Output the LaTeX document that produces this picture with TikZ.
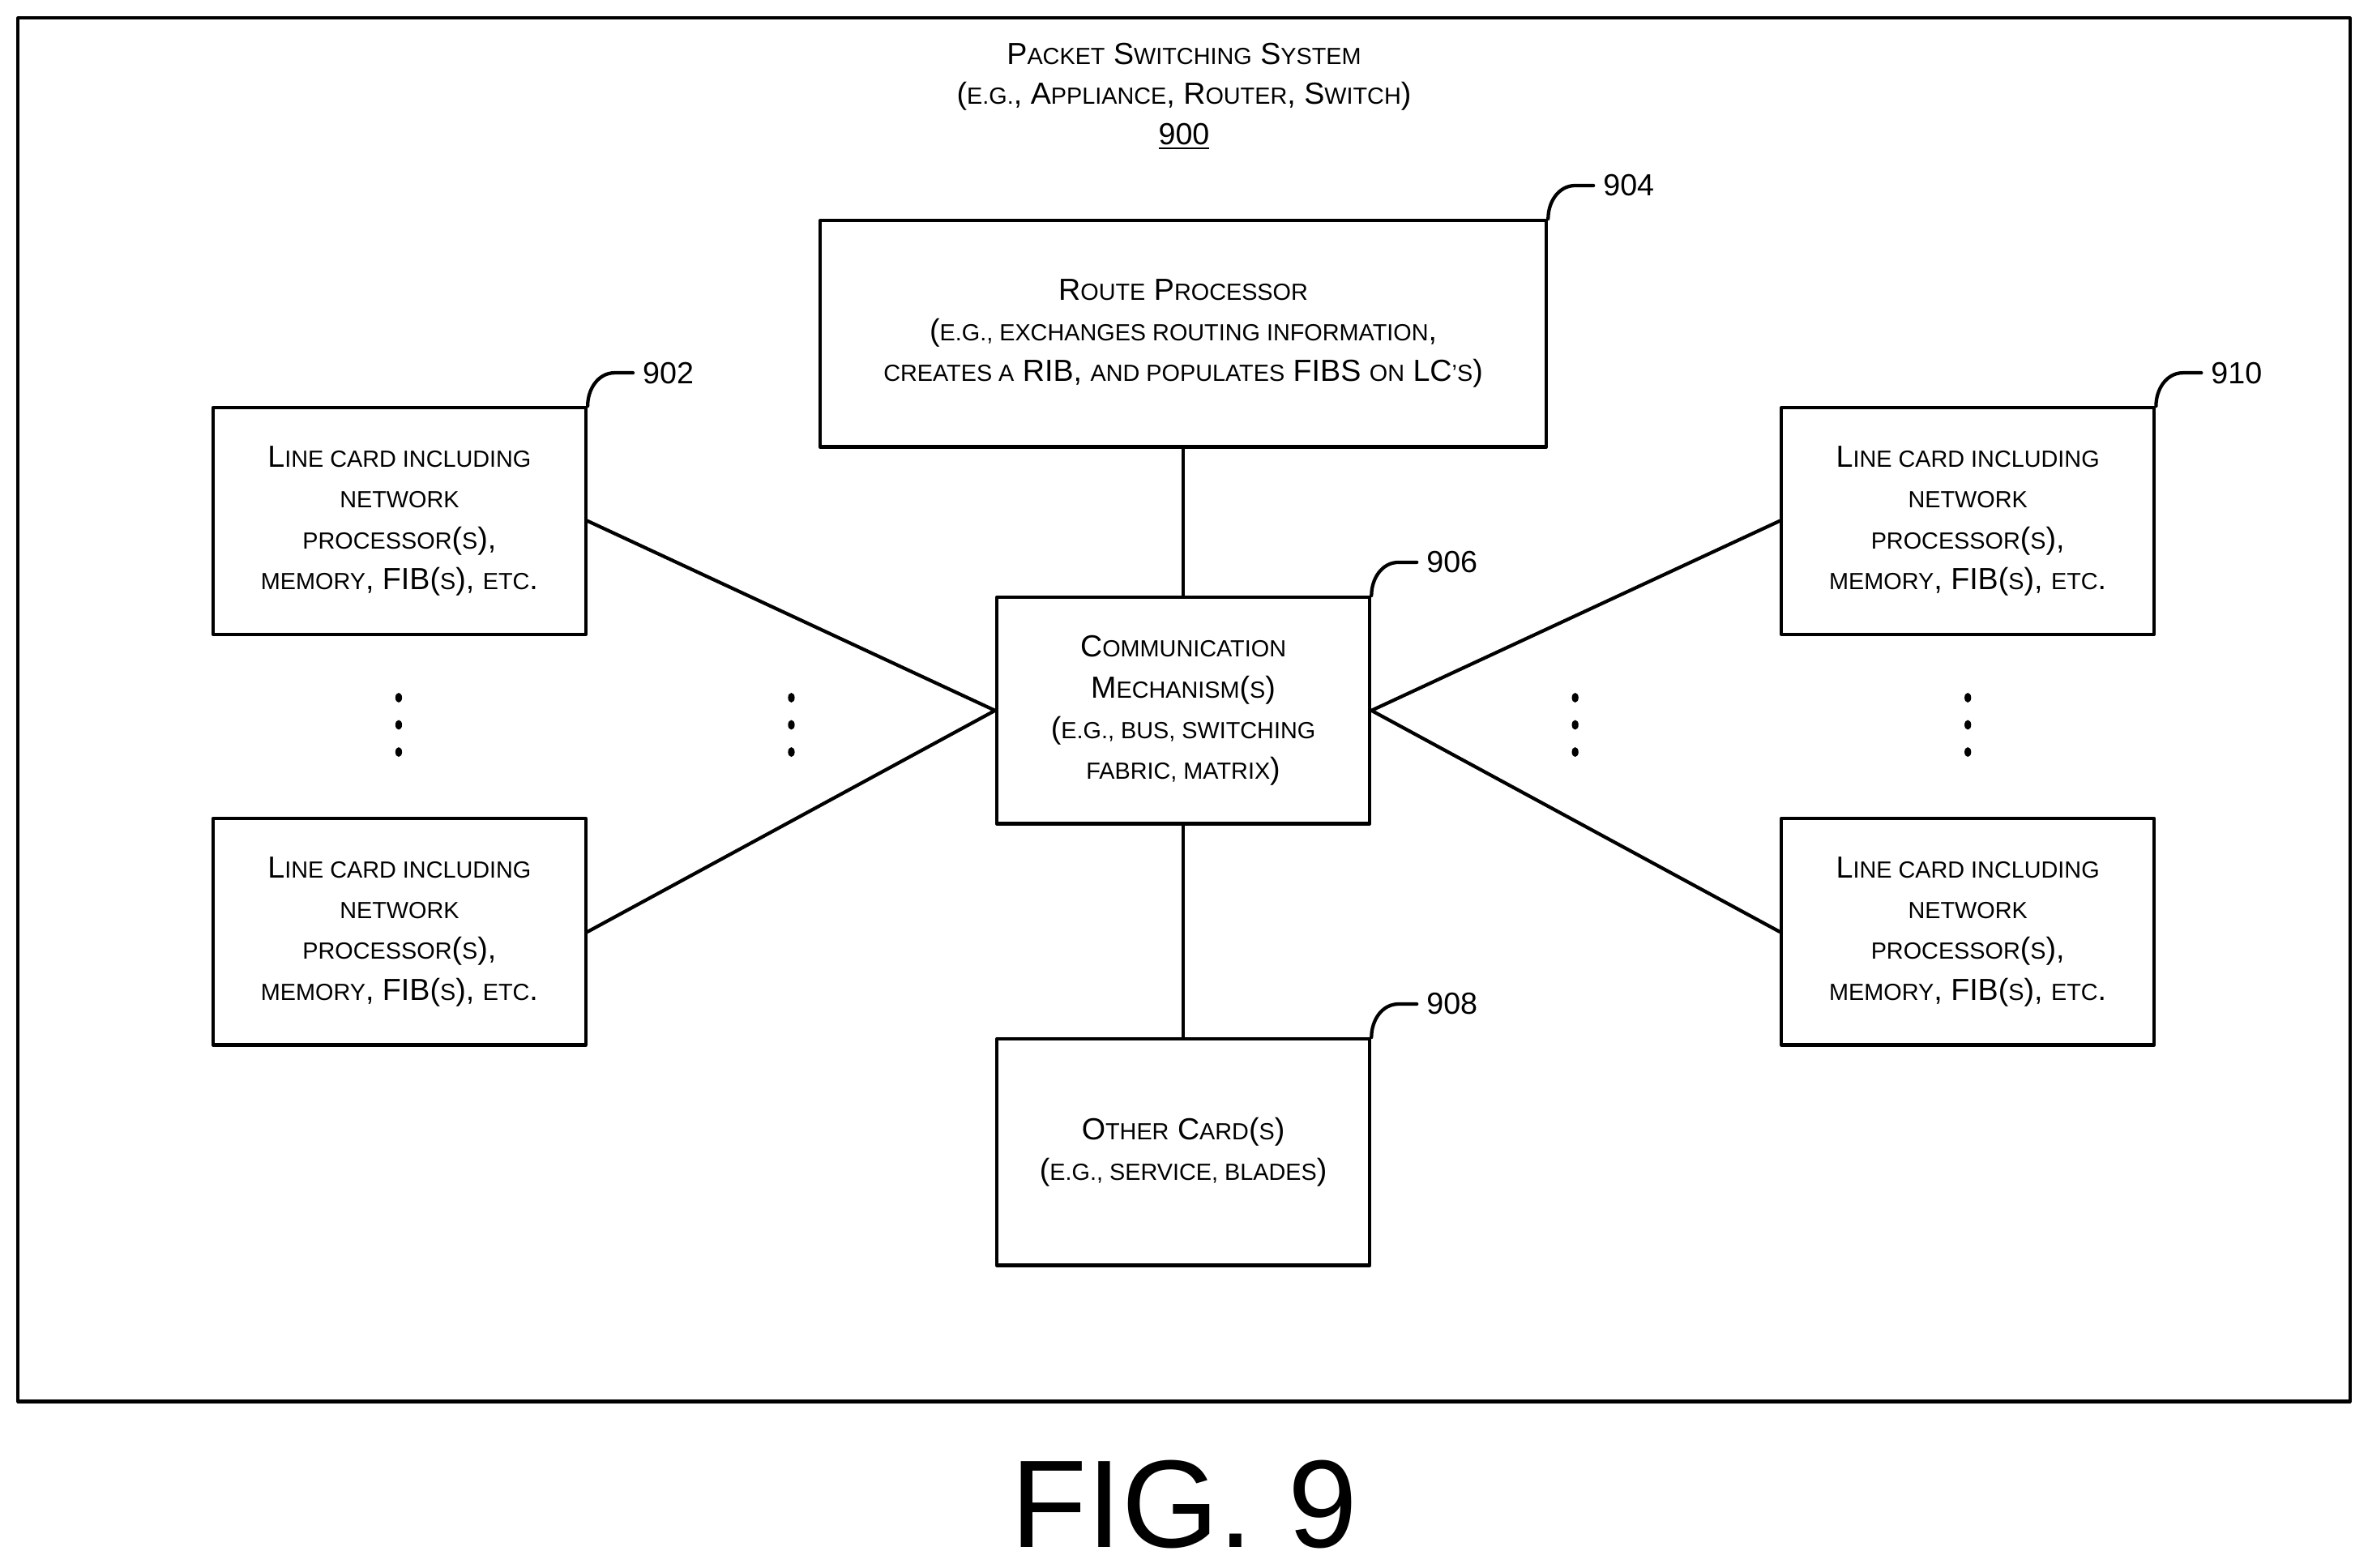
\documentclass[tikz,border=0pt]{standalone}
\usepackage{fontspec}
\setmainfont{Liberation Sans}
\newcommand\sm[1]{{\fontsize{8.8}{10}\selectfont #1}}
\begin{document}
\begin{tikzpicture}[x=0.02cm,y=-0.02cm]
  \tikzstyle{myline}=[black, line width=1.3pt, line cap=round, line join=round];
  \tikzstyle{box}=[myline, draw, inner sep=0pt, align=center,
    minimum width=4.94cm, minimum height=3cm,
    font=\fontsize{11.5}{15.3}\selectfont];
  \tikzstyle{ref}=[font=\fontsize{11.5}{13}\selectfont, anchor=west];
  \useasboundingbox (0,0) rectangle (1568,1038);
  % outer frame
  \draw[myline] (12,12) rectangle (1556,928);
  \node[align=center, font=\fontsize{11.5}{15}\selectfont] (title) at (784,64)
    {P\sm{ACKET} S\sm{WITCHING} S\sm{YSTEM}\\
     (\sm{E.G.}, A\sm{PPLIANCE}, R\sm{OUTER}, S\sm{WITCH})\\
     \underline{900}};
  %
  % boxes
  \node[box, minimum width=9.62cm] (rp) at (783.5,221)
    {R\sm{OUTE} P\sm{ROCESSOR}\\
     (\sm{E.G., EXCHANGES ROUTING INFORMATION},\\
     \sm{CREATES A} RIB, \sm{AND POPULATES} FIBS \sm{ON} LC\sm{'S})};
  \node[box] (cm) at (783.5,470.5)
    {C\sm{OMMUNICATION}\\ M\sm{ECHANISM}(\sm{S})\\
     (\sm{E.G., BUS, SWITCHING}\\ \sm{FABRIC, MATRIX})};
  \node[box] (oc) at (783.5,763)
    {O\sm{THER} C\sm{ARD}(\sm{S})\\ (\sm{E.G., SERVICE, BLADES})};
  \foreach \nm/\cx/\cy in {lt/264.5/345, lb/264.5/617, rt/1303/345, rb/1303/617}{
    \node[box] (\nm) at (\cx,\cy)
      {L\sm{INE CARD INCLUDING}\\ \sm{NETWORK}\\ \sm{PROCESSOR}(\sm{S}),\\
       \sm{MEMORY}, FIB(\sm{S}), \sm{ETC}.};
  }
  %
  % connectors
  \draw[myline] (rp.south) -- (cm.north);
  \draw[myline] (cm.south) -- (oc.north);
  \draw[myline] (lt.east) -- (cm.west);
  \draw[myline] (lb.east) -- (cm.west);
  \draw[myline] (rt.west) -- (cm.east);
  \draw[myline] (rb.west) -- (cm.east);
  %
  % ellipses
  \foreach \x in {264, 524, 1043, 1303}{
    \foreach \y in {462, 480, 498}{
      \fill (\x,\y) ellipse (2.2 and 3.2);
    }
  }
  %
  % reference numerals
  \foreach \nm/\lab in {rp/904, lt/902, cm/906, oc/908, rt/910}{
    \draw[myline] (\nm.north east) to[out=90, in=180] ++(18,-22) coordinate (\nm h)
      -- ++(12,0);
    \node[ref] (\nm n) at ([xshift=7]\nm h) {\lab};
  }
  %
  \node[font=\fontsize{47}{50}\selectfont] (fig) at (784,996) {FIG. 9};
\end{tikzpicture}
\end{document}
